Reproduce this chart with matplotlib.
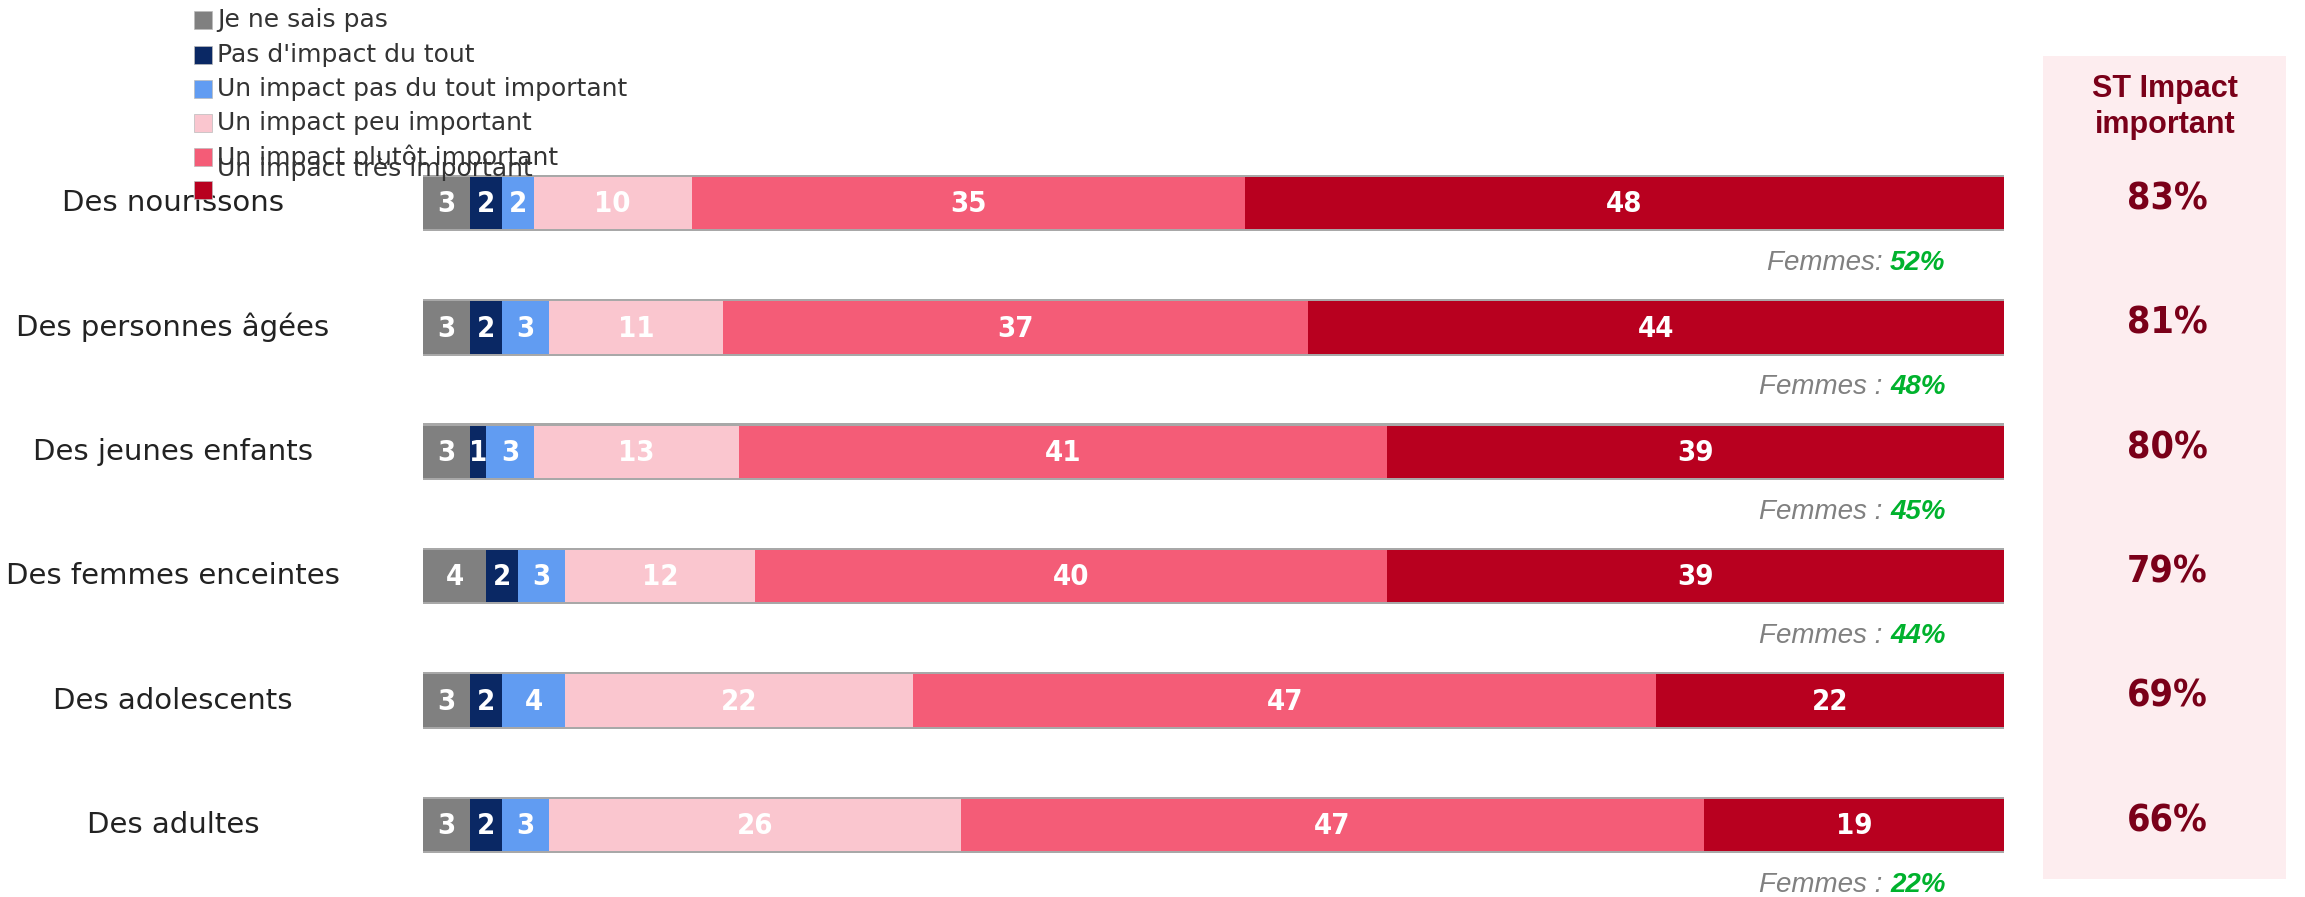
import numpy as np
import matplotlib
matplotlib.use("Agg")
import matplotlib.pyplot as plt
import matplotlib.transforms as mtransforms
from matplotlib.patches import Rectangle

categories = ["Des nourissons", "Des personnes âgées", "Des jeunes enfants",
              "Des femmes enceintes", "Des adolescents", "Des adultes"]
series_names = ["Je ne sais pas", "Pas d'impact du tout", "Un impact pas du tout important",
                "Un impact peu important", "Un impact plutôt important", "Un impact très important"]
je_ne_sais_pas = [3, 3, 3, 4, 3, 3]
pas_impact = [2, 2, 1, 2, 2, 2]
pas_du_tout = [2, 3, 3, 3, 4, 3]
peu_important = [10, 11, 13, 12, 22, 26]
plutot_important = [35, 37, 41, 40, 47, 47]
tres_important = [48, 44, 39, 39, 22, 19]
st_important = ["83%", "81%", "80%", "79%", "69%", "66%"]
femmes_prefix = ["Femmes: ", "Femmes : ", "Femmes : ", "Femmes : ", None, "Femmes : "]
femmes_value = ["52%", "48%", "45%", "44%", None, "22%"]

colors = ["#808080", "#0A2864", "#619CF2", "#FAC6CF", "#F45C77", "#B8001F"]

W, H = 2305, 897
fig = plt.figure(figsize=(W / 100, H / 100), dpi=100)
fig.patch.set_facecolor("white")

# bar area
ax = fig.add_axes([423 / W, 0, 1581 / W, 1])
ax.set_xlim(0, 100)
ax.set_ylim(5.579, -1.632)
ax.axis("off")

series = [je_ne_sais_pas, pas_impact, pas_du_tout, peu_important, plutot_important, tres_important]
y = np.arange(len(categories))
bar_h = 0.42

totals = np.sum(series, axis=0)
ax.barh(y, totals, height=bar_h + 0.035, color="#a8a8a8", zorder=1)

left = np.zeros(len(categories))
for vals, col in zip(series, colors):
    vals = np.array(vals, dtype=float)
    ax.barh(y, vals, left=left, height=bar_h, color=col, zorder=2)
    for yi, (l, v) in enumerate(zip(left, vals)):
        ax.text(l + v / 2, yi + 0.01, f"{int(v)}", ha="center", va="center", color="white",
                fontsize=21, fontweight="bold", family="DejaVu Sans",
                fontstretch="condensed", zorder=3)
    left += vals

# femmes annotations
for yi, (pre, val) in enumerate(zip(femmes_prefix, femmes_value)):
    if val is None:
        continue
    t = ax.text(96.3, yi + 0.48, val, ha="right", va="center", color="#00B22D",
                fontsize=20, fontweight="bold", fontstyle="italic", family="Liberation Sans",
                clip_on=False)
    ax.annotate(pre, xy=(0, 0), xycoords=t, ha="right", va="bottom", color="#808080",
                fontsize=20, fontstyle="italic", family="Liberation Sans")

# category labels
lab_tr = mtransforms.blended_transform_factory(fig.transFigure, ax.transData)
for yi, c in enumerate(categories):
    ax.text(173 / W, yi, c, transform=lab_tr, ha="center", va="center",
            fontsize=21, color="#222222", family="DejaVu Sans")

# right panel
fig.patches.append(Rectangle((2043 / W, (H - 879) / H), 243 / W, 823 / H,
                             transform=fig.transFigure, facecolor="#FDEDEF",
                             edgecolor="none", zorder=-1))
fig.text(2165 / W, 1 - 107 / H, "ST Impact\nimportant", ha="center", va="center",
         fontsize=22, fontweight="bold", color="#7A0019", family="Liberation Sans",
         linespacing=1.25)
for yi, p in enumerate(st_important):
    ax.text(2167 / W, yi - 0.03, p, transform=lab_tr, ha="center", va="center",
            fontsize=27, fontweight="bold", color="#7A0019",
            family="DejaVu Sans", fontstretch="condensed", zorder=4)

# legend (manual, as in the original)
leg_text_y = [20, 55, 89, 123, 157, 168]
leg_box_y = [20, 55, 89, 123, 157, 190]
for name, col, ty, by in zip(series_names, colors, leg_text_y, leg_box_y):
    fig.patches.append(Rectangle((194 / W, 1 - (by + 9) / H), 18 / W, 18 / H,
                                 transform=fig.transFigure, facecolor=col,
                                 edgecolor="#bbbbbb", linewidth=0.5, zorder=5))
    fig.text(217 / W, 1 - ty / H, name, ha="left", va="center", fontsize=18,
             color="#333333", family="DejaVu Sans", zorder=1)

fig.savefig("out.png", dpi=100, facecolor="white")
